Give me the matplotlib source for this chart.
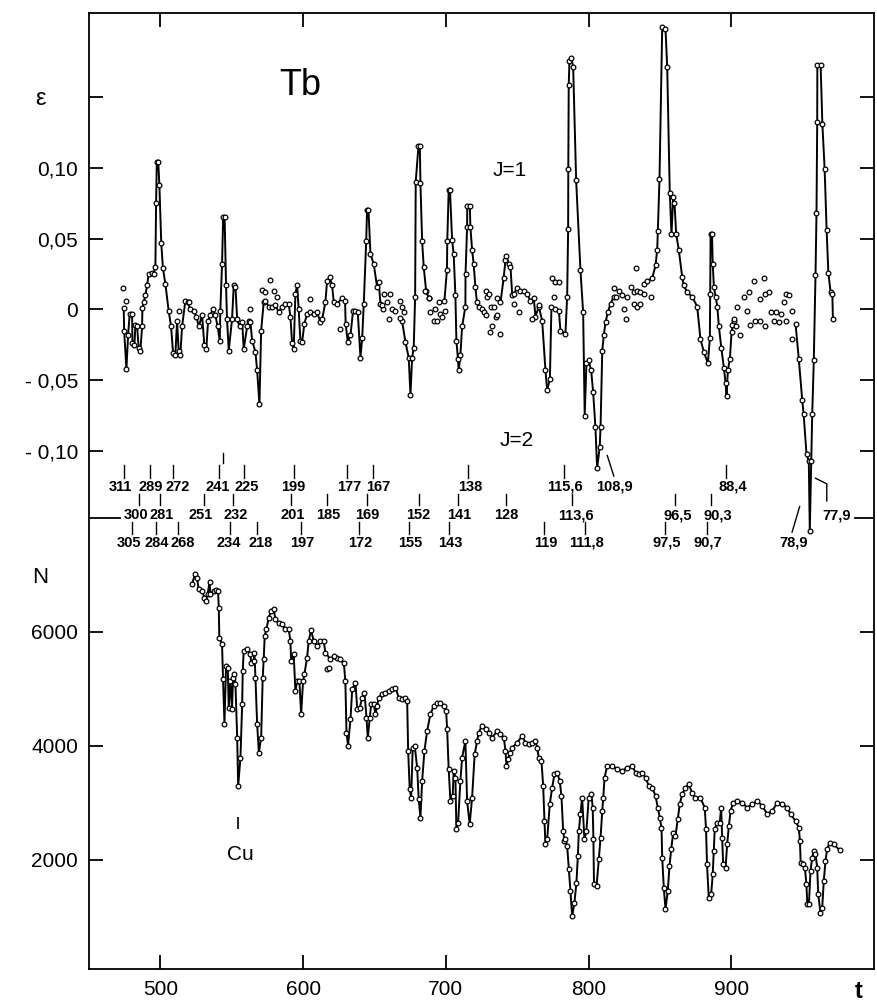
import numpy as np
import matplotlib.pyplot as plt

# Tb: epsilon(t) curve (top) and Cu: N(t) counts (bottom), one shared t axis

nan = np.nan

# epsilon line, segments split by nan
eps_t = [474.3, 474.6, 476.2, 477.4, 478.5, 480.2, 480.4, 481.8, 482.5, 483.7, 484.8, 486.0, 487.2, 487.4,
         488.3, 489.5, 490.7, 491.8, 494.2, 495.3, 496.5, 497.0, 497.5, 498.5, 499.3, 500.6, 501.8, 503.5,
         505.8, 507.5, 508.9, 510.5, 511.7, 512.8, 514.0, 515.2, 517.5, 519.1, 521.0, 523.4, 525.2, 526.9,
         529.2, 530.8, 532.2, 533.4, 535.0, 536.8, 538.5, 540.1, 541.6, 542.0, 543.2, 544.0, 545.0, 546.0,
         546.7, 547.9, 550.2, 551.4, 552.6, 553.8, 555.5, 557.3, 558.4, 560.8, 561.9, 563.1, 564.3, 566.6,
         567.8, 569.4, 570.6, 572.4, 573.6, 575.9, 578.3, 580.6, 582.9, 585.3, 587.6, 589.9, 591.1, 592.3,
         593.4, 594.6, 595.8, 596.9, 598.1, 599.3, 600.9, 602.8, 605.1, 607.4, 609.8, 612.1, 613.3, 615.6,
         616.8, 618.6, 620.3, 621.5, 623.9, 627.3, 629.4, 629.8, 631.3, 633.2, 635.0, 636.7, 638.3, 640.2,
         641.4, 642.5, 644.2, 644.8, 645.8, 647.2, 649.5, 651.8, 653.0, 654.2, 656.1, nan,
         669.3, 671.7, 674.0, 675.2, 676.4, 677.5, 678.5, 678.9, 680.8, 681.8, 682.2, 683.4, 684.5, 686.2,
         688.0, nan,
         699.0, 700.8, 701.0, 702.0, 702.9, 704.4, 705.5, 706.7, 707.4, 708.5, 709.0, 710.2, 711.4, 713.7,
         713.8, 714.9, 715.0, 716.8, 717.2, 718.4, 719.5, 720.7, 721.8, 723.0, 725.3, 726.5, nan,
         735.8, 738.3, 740.5, 741.8, 742.2, 744.1, 745.3, 746.5, 747.6, 750.0, 752.3, 754.6, 757.0, 759.3,
         761.6, 762.8, 765.1, 767.5, 769.8, 771.0, 772.9, 774.0, 776.8, 779.2, 780.3, 783.8, 785.0, 785.7,
         785.8, 786.1, 786.6, 788.0, 789.2, 791.3, 794.3, 796.2, 797.3, 798.5, 800.1, 801.8, 803.2, 804.8,
         806.0, 807.8, 808.4, 809.6, 810.7, 811.9, 813.5, 815.4, 817.7, nan,
         838.7, 841.1, 844.6, 846.9, 848.1, 848.5, 849.7, 851.6, 853.9, 855.1, 856.9, 858.1, 859.3, 860.2,
         861.4, 863.2, 865.6, 866.7, 869.1, 872.6, 876.1, 878.4, 880.8, 883.6, 885.0, 885.2, 885.5, 886.5,
         887.0, 887.8, 889.0, 890.2, 891.3, 893.0, 894.8, 896.0, 896.7, 897.6, 899.0, 900.2, 901.8, nan,
         945.0, 947.3, 949.7, 950.7, 952.7, 954.3, 955.0, 956.0, 956.7, 957.8, 959.0, 959.7, 960.2, 960.3,
         962.6, 963.8, 965.4, 966.8, 968.0, 969.6, 970.8, 971.2]
eps_v = [0.001, -0.015, -0.042, -0.018, -0.003, -0.003, -0.024, -0.025, -0.011, -0.012, -0.027, -0.029, -0.012, 0.001,
         0.005, 0.010, 0.017, 0.025, 0.026, 0.025, 0.030, 0.075, 0.104, 0.104, 0.088, 0.047, 0.029, 0.018,
         -0.001, -0.012, -0.031, -0.032, -0.008, -0.029, -0.032, -0.012, 0.006, 0.005, 0.000, -0.001, -0.005, -0.012,
         -0.004, -0.025, -0.028, -0.008, -0.004, 0.000, -0.004, -0.012, -0.022, -0.001, 0.032, 0.065, 0.065, 0.017,
         -0.007, -0.029, -0.007, 0.017, 0.016, -0.007, -0.012, -0.009, -0.028, -0.012, -0.008, -0.009, -0.022, -0.030,
         -0.043, -0.067, -0.015, 0.005, 0.006, 0.002, 0.002, 0.003, -0.002, 0.002, 0.004, 0.004, -0.005, -0.024,
         -0.028, 0.011, 0.017, 0.000, -0.022, -0.023, -0.010, -0.003, -0.002, -0.003, -0.002, -0.009, -0.007, 0.005,
         0.020, 0.023, 0.017, 0.005, 0.004, 0.008, 0.006, -0.010, -0.023, -0.018, -0.001, -0.001, -0.002, -0.034,
         -0.020, 0.004, 0.048, 0.070, 0.070, 0.039, 0.032, 0.016, 0.019, 0.004, 0.000, nan,
         -0.008, -0.023, -0.034, -0.060, -0.034, -0.027, 0.009, 0.090, 0.115, 0.115, 0.089, 0.048, 0.030, 0.013,
         0.008, nan,
         0.006, 0.028, 0.048, 0.084, 0.084, 0.049, 0.039, 0.010, -0.022, -0.035, -0.043, -0.032, -0.012, 0.002,
         0.025, 0.058, 0.073, 0.073, 0.058, 0.042, 0.032, 0.016, 0.005, 0.002, 0.000, -0.002, nan,
         0.008, 0.005, 0.022, 0.035, 0.038, 0.032, 0.030, 0.010, 0.011, 0.015, 0.013, 0.013, 0.011, 0.006,
         0.008, -0.005, 0.002, -0.008, -0.043, -0.057, -0.049, 0.002, 0.000, -0.001, -0.015, -0.017, 0.009, 0.057,
         0.099, 0.158, 0.175, 0.177, 0.171, 0.091, 0.028, -0.002, -0.075, -0.038, -0.036, -0.043, -0.058, -0.083,
         -0.112, -0.097, -0.083, -0.029, -0.018, -0.009, -0.002, 0.004, 0.009, nan,
         0.018, 0.020, 0.022, 0.031, 0.042, 0.055, 0.092, 0.199, 0.198, 0.171, 0.082, 0.053, 0.079, 0.075,
         0.053, 0.042, 0.023, 0.017, 0.012, 0.009, 0.002, -0.021, -0.030, -0.038, -0.020, 0.011, 0.053, 0.053,
         0.032, 0.016, 0.009, 0.002, -0.012, -0.027, -0.041, -0.052, -0.061, -0.043, -0.035, -0.016, -0.008, nan,
         -0.010, -0.035, -0.064, -0.074, -0.102, -0.107, -0.156, -0.107, -0.074, -0.036, 0.024, 0.068, 0.132, 0.172,
         0.172, 0.131, 0.099, 0.056, 0.026, 0.012, 0.011, -0.007]

# epsilon points drawn without a line
eps_pts_t = [474.0, 475.8, 512.8, 519.8, 562.6, 571.3, 573.6, 577.1, 579.4, 581.7, 605.1, 626.1,
             655.4, 656.5, 658.9, 660.0, 661.2, 662.4, 664.7, 667.8, 668.2, 669.4, 670.6,
             685.7, 688.0, 689.2, 691.5, 692.7, 693.9, 695.0, 696.2, 697.4, 699.7,
             727.8, 727.8, 729.0, 730.1, 730.7, 731.3, 732.5, 733.6, 734.8, 736.0, 738.3,
             747.6, 751.1, 760.5, 765.1, 774.5, 775.6, 776.8, 779.1,
             817.7, 819.2, 821.2, 823.6, 824.8, 826.0, 827.1, 829.4, 831.7, 831.7, 832.9, 834.1, 834.1,
             836.3, 836.3, 838.7, 843.6,
             900.8, 901.8, 903.0, 904.1, 906.3, 908.7, 911.1, 912.2, 913.4, 915.7, 916.9, 920.4, 920.4,
             922.7, 923.9, 923.9, 926.3, 927.5, 929.7, 931.0, 933.3, 934.5, 936.8, 938.0, 938.0, 940.3,
             942.6, 942.6]
eps_pts_v = [0.015, 0.006, -0.001, 0.005, 0.000, 0.014, 0.012, 0.021, 0.013, 0.009, 0.007, -0.014,
             0.003, 0.011, 0.005, -0.007, 0.011, 0.000, -0.001, 0.006, -0.006, 0.002, -0.002,
             0.013, 0.008, -0.002, -0.008, 0.000, -0.008, 0.005, -0.003, -0.005, -0.001,
             0.013, -0.004, 0.009, 0.011, -0.016, 0.002, -0.012, 0.002, -0.005, -0.004, -0.017,
             0.004, -0.002, -0.007, 0.003, 0.022, 0.009, 0.019, 0.019,
             0.015, 0.009, 0.013, 0.010, 0.000, -0.007, 0.009, 0.016, 0.012, 0.004, 0.029, 0.013, 0.002,
             0.012, 0.004, 0.011, 0.009,
             -0.011, -0.007, -0.012, 0.002, -0.018, 0.009, -0.001, 0.012, -0.011, 0.020, -0.008, 0.007, -0.008,
             0.022, 0.011, -0.012, 0.012, -0.002, -0.008, -0.002, -0.009, -0.003, 0.005, 0.011, -0.008, 0.010,
             -0.001, -0.021]

# N counts (Cu)
n_t = [522.2, 524.5, 525.7, 526.8, 529.2, 530.8, 532.0, 533.1, 534.5, 535.0, 537.4, 539.2, 540.4, 540.9,
       541.3, 543.2, 543.9, 544.9, 546.0, 547.2, 547.9, 549.1, 550.2, 550.9, 551.9, 552.6, 553.8, 554.5,
       556.1, 557.3, 557.7, 558.4, 560.8, 563.1, 563.6, 565.4, 565.9, 566.6, 567.8, 569.0, 570.6, 571.7,
       572.4, 573.1, 574.3, 575.9, 577.6, 579.4, 580.6, 582.9, 585.3, 587.6, 589.9, 591.1, 591.6, 593.4,
       594.6, 595.8, 597.4, 598.6, 600.0, 600.9, 602.8, 603.9, 605.6, 607.4, 609.8, 612.1, 614.4, 615.6,
       619.1, 623.9, 628.5, 629.6, 630.4, 631.5, 633.2, 634.4, 636.7, 637.9, 639.7, 641.4, 643.0, 644.4,
       645.3, 646.7, 647.7, 649.5, 650.7, 651.9, 653.0, 655.4, 657.7, 660.0, 662.4, 664.7, 667.0, 669.4,
       671.7, 672.9, 673.6, 674.7, 675.7, 676.8, 678.2, 679.9, 681.0, 682.2, 683.4, 685.0, 686.9, 689.2,
       691.5, 693.9, 696.2, 698.5, 700.2, 700.9, 702.0, 703.2, 704.8, 705.5, 706.7, 707.4, 708.6, 710.2,
       711.4, 713.7, 714.9, 716.7, 718.4, 720.2, 721.9, 723.0, 725.3, 727.8, 730.1, 732.5, 736.0, 738.3,
       740.6, 741.8, 742.5, 743.7, 744.8, 746.5, 750.0, 753.5, 755.8, 758.1, 760.5, 762.8, 764.0, 765.1,
       767.0, 768.2, 769.1, 769.8, 771.0, 772.8, 774.5, 776.1, 778.0, 779.8, 781.0, 782.2, 783.1, 783.8,
       785.0, 786.2, 787.3, 788.5, 790.1, 791.5, 792.5, 793.2, 794.3, 795.5, 797.1, 798.5, 800.1, 802.0,
       802.9, 803.4, 803.8, 805.6, 807.2, 808.4, 809.6, 810.3, 811.2, 813.1, 816.6, 820.1, 823.6, 827.1,
       830.6, 832.9, 835.2, 837.6, 839.9, 842.2, 844.6, 846.9, 848.5, 849.9, 851.1, 851.6, 852.7, 853.9,
       855.5, 856.7, 857.9, 859.3, 860.9, 862.5, 863.9, 865.6, 867.9, 870.2, 872.5, 874.8, 878.3, 881.4,
       882.3, 883.0, 884.2, 885.9, 887.0, 887.7, 888.4, 890.1, 891.9, 892.9, 893.6, 894.3, 896.0, 897.1,
       898.3, 899.5, 901.3, 904.1, 907.6, 911.1, 914.7, 918.2, 921.7, 925.2, 928.7, 932.2, 935.7, 939.2,
       941.5, 945.0, 947.3, 948.1, 948.6, 950.4, 951.6, 952.6, 953.3, 954.4, 955.5, 956.7, 957.8, 959.0,
       960.2, 960.9, 962.5, 963.7, 964.8, 966.0, 967.1, 969.0, 971.8, 976.0]
n_v = [6846, 7022, 6941, 6748, 6718, 6601, 6543, 6660, 6881, 6660, 6718, 6731, 6718, 6425,
       5899, 5783, 5169, 4380, 5403, 5373, 4671, 5140, 4643, 5198, 5257, 5082, 4145, 3298,
       3794, 4731, 5315, 5666, 5696, 5608, 5461, 5490, 5636, 5198, 4380, 3882, 4145, 5198,
       5520, 5929, 6047, 6250, 6367, 6397, 6222, 6162, 6134, 6047, 6047, 5841, 5490, 5608,
       4964, 5140, 5140, 4556, 5140, 5257, 5548, 5841, 6029, 5841, 5754, 5841, 5841, 5636,
       5520, 5548, 5461, 5140, 4233, 4000, 4468, 4994, 5110, 4643, 4671, 4847, 4934, 4496,
       4145, 4496, 4731, 4731, 4556, 4701, 4847, 4906, 4934, 4964, 4994, 5022, 4847, 4819,
       4847, 4789, 3912, 3240, 3093, 3970, 4000, 3619, 3065, 2742, 3386, 3912, 4263, 4556,
       4701, 4748, 4748, 4701, 4614, 4293, 3591, 3035, 3123, 3561, 3444, 2538, 2654, 3386,
       3794, 4087, 3035, 2626, 3093, 3854, 4087, 4233, 4350, 4293, 4233, 4145, 4263, 4205,
       4145, 3912, 3649, 3766, 3882, 3970, 4057, 4175, 4057, 4029, 4057, 4087, 3970, 3794,
       3736, 3298, 2684, 2275, 2360, 2977, 3268, 3503, 3531, 3386, 3123, 2509, 2333, 2363,
       2246, 1837, 1456, 1018, 1251, 1602, 2070, 2509, 2802, 3093, 2363, 2509, 3093, 3152,
       2917, 2363, 1574, 1544, 2012, 2391, 2859, 3093, 3444, 3649, 3649, 3591, 3561, 3619,
       3649, 3531, 3503, 3531, 3444, 3298, 3268, 3123, 2917, 2742, 2567, 2040, 1514, 1135,
       1456, 1895, 2188, 2479, 2421, 2714, 2977, 3152, 3268, 3328, 3180, 3093, 3093, 2917,
       2538, 1925, 1339, 1398, 1749, 2158, 2538, 2654, 2654, 2917, 2391, 1925, 1865, 2275,
       2596, 2859, 3005, 3035, 3005, 2917, 2977, 3035, 2947, 2802, 2859, 3005, 2977, 2917,
       2802, 2684, 2567, 2333, 1953, 1925, 1865, 1574, 1223, 1223, 1807, 2040, 2158, 2100,
       1865, 1398, 1076, 1163, 1632, 1982, 2188, 2304, 2275, 2170]

n_pts_t = [616.8, 617.9, 621.5, 626.1]
n_pts_v = [5345, 5373, 5578, 5520]

# resonance labels, three rows: (label, text t, tick t)
row1_lab = ["311", "289", "272", "241", "225", "199", "177", "167", "138", "115,6", "108,9", "88,4"]
row1_txt = [471.9, 493.0, 511.9, 540.0, 560.8, 593.2, 632.4, 652.8, 717.3, 783.1, 818.2, 901.3]
row1_tick = [474.8, 492.5, 508.6, 540.9, 558.9, 593.7, 630.8, 648.8, 715.4, 783.1, nan, 896.0]

row2_lab = ["300", "281", "251", "232", "201", "185", "169", "152", "141", "128", "113,6", "96,5", "90,3", "77,9"]
row2_txt = [483.0, 500.6, 528.0, 552.6, 592.5, 617.7, 645.1, 680.8, 709.5, 742.5, 791.5, 862.3, 890.3, 973.7]
row2_tick = [485.3, 499.5, 530.3, 550.9, 591.8, 616.8, 644.9, 681.0, 708.4, 742.5, 788.5, 860.9, 885.9, nan]

row3_lab = ["305", "284", "268", "234", "218", "197", "172", "155", "143", "119", "111,8", "97,5", "90,7", "78,9"]
row3_txt = [478.0, 497.6, 515.6, 547.7, 570.1, 599.3, 640.2, 675.2, 703.2, 769.8, 798.5, 854.6, 883.3, 943.8]
row3_tick = [480.2, 497.2, 512.4, 548.6, 567.8, 598.8, 639.0, 674.0, 702.0, 769.1, 797.3, 853.4, 883.0, nan]

plt.rcParams['font.family'] = ['Liberation Sans', 'DejaVu Sans']

fig = plt.figure(figsize=(8.77, 10.06), dpi=100)
rect = [0.1015, 0.0368, 0.8951, 0.9503]
ax = fig.add_axes(rect)
axn = fig.add_axes(rect, sharex=ax)
axn.patch.set_visible(False)
for s in axn.spines.values():
    s.set_visible(False)

ax.set_xlim(450, 1000)
ax.set_ylim(-0.465, 0.209)
axn.set_ylim(88, 16850)

line_kw = dict(color='black', lw=1.4, marker='o', ms=3.4, mfc='white', mec='black', mew=0.9)
pt_kw = dict(ls='none', marker='o', ms=3.4, mfc='white', mec='black', mew=0.9)

ax.plot(eps_t, eps_v, **line_kw)
ax.plot(eps_pts_t, eps_pts_v, **pt_kw)
axn.plot(n_t, n_v, **line_kw)
axn.plot(n_pts_t, n_pts_v, **pt_kw)

# axes and ticks
for s in ax.spines.values():
    s.set_linewidth(1.3)
ax.set_xticks([500, 600, 700, 800, 900])
ax.set_xticklabels(["500", "600", "700", "800", "900"])
ax.set_yticks([0.15, 0.10, 0.05, 0.0, -0.05, -0.10])
ax.set_yticklabels(["", "0,10", "0,05", "0", "- 0,05", "- 0,10"])
ax.tick_params(direction='in', length=10, width=1.3, top=True, right=True,
               labelsize=15, pad=8)
axn.set_yticks([2000, 4000, 6000])
axn.set_yticklabels(["2000", "4000", "6000"])
axn.tick_params(axis='y', direction='in', length=10, width=1.3, left=True, right=True,
                labelsize=15, pad=8)
axn.tick_params(axis='x', bottom=False, labelbottom=False)

# separator marks between the two panels
axn.axhline(8000, xmin=0, xmax=0.04, color='black', lw=1.3)
axn.axhline(8000, xmin=0.976, xmax=1, color='black', lw=1.3)

# labels
ax.text(416, 0.148, "ε", fontsize=17, ha='center', va='center', clip_on=False)
axn.text(416, 6950, "N", fontsize=16, ha='center', va='center', clip_on=False)
ax.text(989, -0.481, "t", fontsize=17, fontweight='bold', ha='center', va='center', clip_on=False)
ax.text(598, 0.158, "Tb", fontsize=26, ha='center', va='center')
ax.text(744.6, 0.098, "J=1", fontsize=15, ha='center', va='center')
ax.text(749.5, -0.0925, "J=2", fontsize=15, ha='center', va='center')
axn.text(556, 2100, "Cu", fontsize=15, ha='center', va='center')
axn.vlines(554.5, 2550, 2750, color='black', lw=1.2)

# resonance markers
rows = [(row1_lab, row1_txt, row1_tick, -0.125, -0.119, -0.110),
        (row2_lab, row2_txt, row2_tick, -0.145, -0.138, -0.130),
        (row3_lab, row3_txt, row3_tick, -0.1645, -0.158, -0.150)]
for labs, txt, tick, ty, y0, y1 in rows:
    for lab, tx, kx in zip(labs, txt, tick):
        ax.text(tx, ty, lab, fontsize=10.5, fontweight='bold', ha='center', va='center')
        if not np.isnan(kx):
            ax.plot([kx, kx], [y0, y1], color='black', lw=1.0)
# extra and slanted marks
ax.plot([544.2, 544.2], [-0.108, -0.101], color='black', lw=1.0)
ax.plot([813.1, 817.7], [-0.103, -0.1175], color='black', lw=1.0)
ax.plot([959.0, 966.9, 966.9], [-0.119, -0.123, -0.135], color='black', lw=1.0)
ax.plot([947.9, 942.6], [-0.139, -0.157], color='black', lw=1.0)

fig.savefig("out.png", dpi=100)
